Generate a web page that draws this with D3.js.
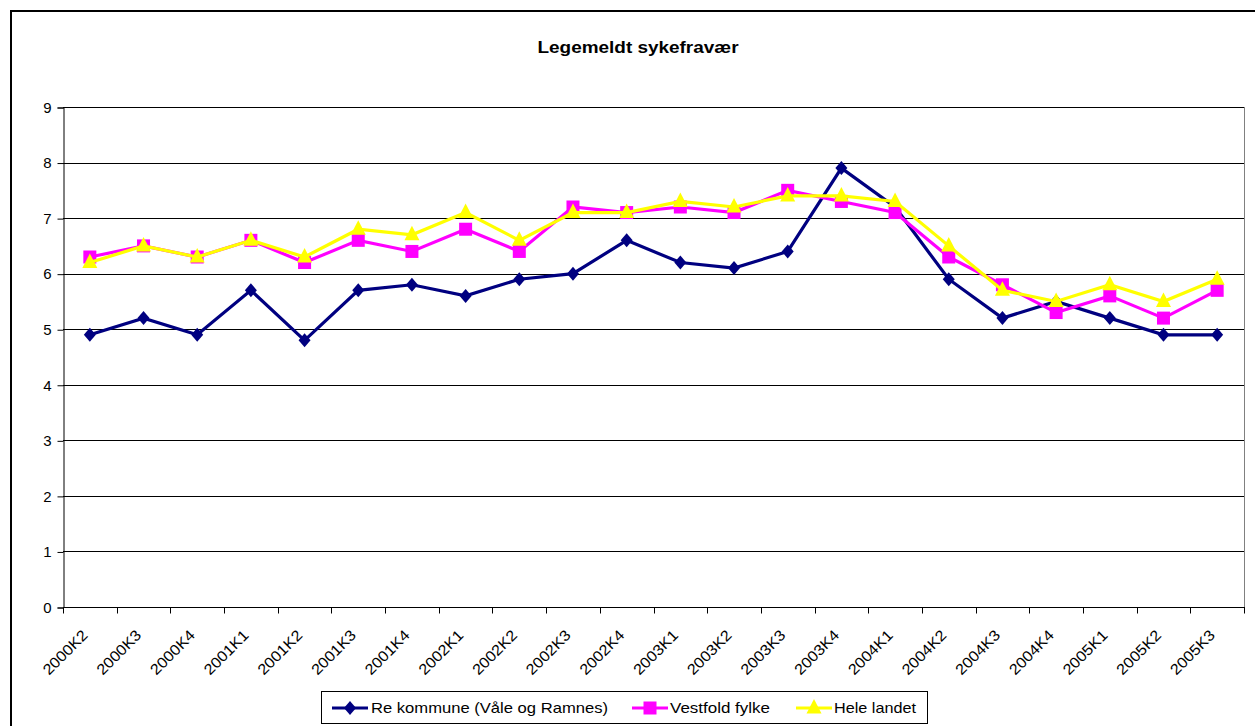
<!DOCTYPE html>
<html>
<head>
<meta charset="utf-8">
<script src="https://cdn.jsdelivr.net/npm/d3@7"></script>
<style>
  body { margin: 0; background: #fff; }
  svg { display: block; font-family: "Liberation Sans", Arial, sans-serif; }
</style>
</head>
<body>
<svg id="chart" width="1255" height="726"></svg>
<script>
const categories = ["2000K2","2000K3","2000K4","2001K1","2001K2","2001K3","2001K4","2002K1","2002K2","2002K3","2002K4","2003K1","2003K2","2003K3","2003K4","2004K1","2004K2","2004K3","2004K4","2005K1","2005K2","2005K3"];
const reKommune = [4.9,5.2,4.9,5.7,4.8,5.7,5.8,5.6,5.9,6.0,6.6,6.2,6.1,6.4,7.9,7.2,5.9,5.2,5.5,5.2,4.9,4.9];
const vestfold  = [6.3,6.5,6.3,6.6,6.2,6.6,6.4,6.8,6.4,7.2,7.1,7.2,7.1,7.5,7.3,7.1,6.3,5.8,5.3,5.6,5.2,5.7];
const heleLandet= [6.2,6.5,6.3,6.6,6.3,6.8,6.7,7.1,6.6,7.1,7.1,7.3,7.2,7.4,7.4,7.3,6.5,5.7,5.5,5.8,5.5,5.9];
const yTicks = [0,1,2,3,4,5,6,7,8,9];
const seriesNames = ["Re kommune (Våle og Ramnes)","Vestfold fylke","Hele landet"];
const title = "Legemeldt sykefravær";

const series = [
  {name: seriesNames[0], values: reKommune, color: "#000080", marker: "diamond"},
  {name: seriesNames[1], values: vestfold, color: "#FF00FF", marker: "square"},
  {name: seriesNames[2], values: heleLandet, color: "#FFFF00", marker: "triangle"}
];

const svg = d3.select("#chart");
const L = 63, R = 1244, T = 107, B = 607;

// outer chart border
svg.append("rect").attr("x", 11).attr("y", 11).attr("width", 1270).attr("height", 740)
  .attr("fill", "none").attr("stroke", "#000").attr("stroke-width", 2);

const x = d3.scaleBand().domain(categories).range([L, R]).padding(0);
const y = d3.scaleLinear().domain([0, 9]).range([B, T]);

// gridlines
svg.append("g").selectAll("line").data(yTicks.filter(d => d > 0)).join("line")
  .attr("x1", L).attr("x2", R)
  .attr("y1", d => Math.round(y(d)) + 0.5).attr("y2", d => Math.round(y(d)) + 0.5)
  .attr("stroke", "#000").attr("stroke-width", 1);

// plot area right border
svg.append("line").attr("x1", R + 0.5).attr("x2", R + 0.5).attr("y1", T).attr("y2", B)
  .attr("stroke", "#808080").attr("stroke-width", 1);

// y axis
const yAxis = d3.axisLeft(y).tickValues(yTicks).tickSize(6).tickPadding(6).tickFormat(d3.format("d"));
const gy = svg.append("g").attr("transform", `translate(${L + 0.5},0.5)`).call(yAxis);
gy.select(".domain").attr("stroke", "#000");
gy.selectAll("text").attr("font-size", 15).attr("fill", "#000")
  .attr("font-family", "'Liberation Sans', Arial, sans-serif");

// x axis: ticks at category boundaries
const gx = svg.append("g").attr("transform", `translate(0,${B + 0.5})`);
gx.append("line").attr("x1", L).attr("x2", R + 1).attr("y1", 0).attr("y2", 0).attr("stroke", "#000");
const boundaries = categories.map(c => x(c)).concat([x(categories[categories.length - 1]) + x.bandwidth()]);
gx.selectAll("line.tick").data(boundaries).join("line").attr("class", "tick")
  .attr("x1", d => Math.round(d) + 0.5).attr("x2", d => Math.round(d) + 0.5)
  .attr("y1", 0).attr("y2", 6).attr("stroke", "#000");
gx.selectAll("text").data(categories).join("text")
  .attr("transform", d => `translate(${x(d) + x.bandwidth() / 2 - 5},${632 - B}) rotate(-45)`)
  .attr("text-anchor", "end").attr("dy", "0.35em")
  .attr("font-size", 15).attr("fill", "#000")
  .attr("textLength", 56).attr("lengthAdjust", "spacingAndGlyphs")
  .text(d => d);

// title
svg.append("text").attr("x", 638).attr("y", 53).attr("text-anchor", "middle")
  .attr("font-size", 16).attr("font-weight", "bold")
  .attr("textLength", 201).attr("lengthAdjust", "spacingAndGlyphs")
  .text(title);

// markers
function drawMarker(g, type, color, cx, cy) {
  if (type === "diamond") {
    g.append("path").attr("d", `M${cx},${cy - 7}L${cx + 6},${cy}L${cx},${cy + 7}L${cx - 6},${cy}Z`)
      .attr("fill", color);
  } else if (type === "square") {
    g.append("rect").attr("x", cx - 6.5).attr("y", cy - 6.5).attr("width", 13).attr("height", 13)
      .attr("fill", color);
  } else {
    g.append("path").attr("d", `M${cx},${cy - 9}L${cx + 7.5},${cy + 5.5}L${cx - 7.5},${cy + 5.5}Z`).attr("fill", color);
  }
}

const line = d3.line().x((d, i) => x(categories[i]) + x.bandwidth() / 2).y(d => y(d));
series.forEach(s => {
  const g = svg.append("g");
  g.append("path").datum(s.values).attr("d", line)
    .attr("fill", "none").attr("stroke", s.color).attr("stroke-width", 3.2).attr("stroke-linejoin", "miter");
  s.values.forEach((v, i) => drawMarker(g, s.marker, s.color, x(categories[i]) + x.bandwidth() / 2, y(v)));
});

// legend
const lg = svg.append("g");
lg.append("rect").attr("x", 321.5).attr("y", 691.5).attr("width", 606).attr("height", 32)
  .attr("fill", "#fff").attr("stroke", "#000").attr("stroke-width", 1);
const legendItems = [
  {s: series[0], x0: 332, tx: 371, tl: 237},
  {s: series[1], x0: 632, tx: 670, tl: 100},
  {s: series[2], x0: 796, tx: 834, tl: 82}
];
legendItems.forEach(it => {
  lg.append("line").attr("x1", it.x0).attr("x2", it.x0 + 36).attr("y1", 708).attr("y2", 708)
    .attr("stroke", it.s.color).attr("stroke-width", 3);
  drawMarker(lg, it.s.marker, it.s.color, it.x0 + 18, 708);
  lg.append("text").attr("x", it.tx).attr("y", 713).attr("font-size", 15)
    .attr("textLength", it.tl).attr("lengthAdjust", "spacingAndGlyphs")
    .text(it.s.name);
});
</script>
</body>
</html>
